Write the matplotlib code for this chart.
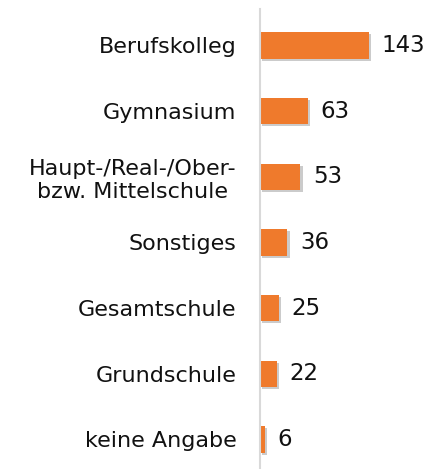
import matplotlib.pyplot as plt
import matplotlib.patheffects as pe

# Data
categories = ['Berufskolleg', 'Gymnasium', 'Haupt-/Real-/Ober-\nbzw. Mittelschule',
              'Sonstiges', 'Gesamtschule', 'Grundschule', 'keine Angabe']
values = [143, 63, 53, 36, 25, 22, 6]

fig = plt.figure(figsize=(4.28, 4.69), dpi=100)
ax = fig.add_axes([260 / 428, 0, 1 - 260 / 428, 0.98])

pos = list(range(len(categories)))
bars = ax.barh(pos, values, height=0.4, color='#EF7A2C', edgecolor='none')
for b in bars:
    b.set_path_effects([pe.SimplePatchShadow(offset=(1.5, -1.5), shadow_rgbFace='#999999', alpha=0.5),
                        pe.Normal()])

# value labels
for p, v in zip(pos, values):
    ax.annotate(str(v), xy=(v, p), xytext=(9, 0), textcoords='offset points',
                va='center', ha='left', fontsize=16.5, color='#111111')

ax.set_xlim(0, 220)
ax.set_ylim(6.45, -0.55)
ax.set_yticks(pos)
ax.set_yticklabels(categories, fontsize=16, color='#111111', ha='right',
                   multialignment='center', linespacing=1.2)
ax.tick_params(axis='y', length=0, pad=17)
ax.set_xticks([])

for s in ['top', 'right', 'bottom']:
    ax.spines[s].set_visible(False)
ax.spines['left'].set_color('#D9D9D9')
ax.spines['left'].set_linewidth(1.5)

plt.savefig('out.png', dpi=100)
